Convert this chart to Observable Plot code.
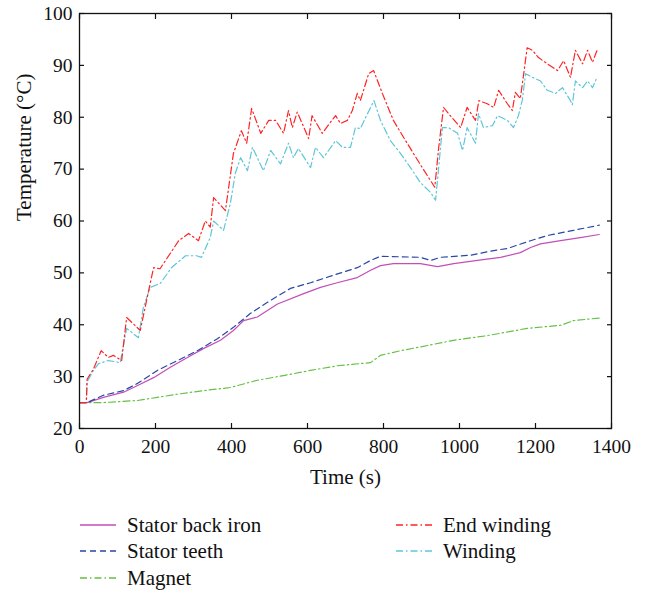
<!DOCTYPE html>
<html><head><meta charset="utf-8">
<script src="https://cdn.jsdelivr.net/npm/d3@7"></script>
<script src="https://cdn.jsdelivr.net/npm/@observablehq/plot@0.6"></script>
<style>
body{margin:0;background:#fff;font-family:"Liberation Serif","Times New Roman",serif;}
#wrap{position:relative;width:647px;height:591px;}
.item{position:absolute;display:flex;align-items:center;font-family:"Liberation Serif","Times New Roman",serif;font-size:21px;color:#111;white-space:nowrap;}
.item svg{margin-right:11px;}
</style></head><body><div id="wrap"></div>
<script>
const xTicks = [0, 200, 400, 600, 800, 1000, 1200, 1400];
const yTicks = [20, 30, 40, 50, 60, 70, 80, 90, 100];
const xLabel = "Time (s)";
const yLabel = "Temperature (°C)";

const backIronT = [0, 20, 63, 116, 153, 195, 239, 284, 326, 371, 405, 432, 468, 521, 590, 634, 678, 731, 766, 792, 826, 897, 942, 985, 1047, 1108, 1160, 1187, 1213, 1266, 1318, 1368];
const backIronV = [25, 25, 26, 27, 28.3, 29.8, 31.8, 33.7, 35.4, 37, 38.9, 40.8, 41.5, 44, 46, 47.2, 48.1, 49.1, 50.5, 51.4, 51.8, 51.8, 51.2, 51.8, 52.4, 53, 53.9, 54.9, 55.6, 56.2, 56.8, 57.4];

const teethT = [0, 20, 63, 116, 153, 205, 258, 310, 363, 405, 450, 503, 555, 608, 679, 731, 766, 792, 897, 924, 950, 1029, 1090, 1126, 1187, 1231, 1300, 1368];
const teethV = [25, 25, 26.4, 27.3, 28.7, 31.2, 33.1, 35, 37.3, 39.5, 42.2, 44.7, 47, 48.1, 49.8, 51, 52.4, 53.2, 53, 52.4, 53, 53.4, 54.3, 54.7, 56.2, 57.2, 58.2, 59.2];

const magnetT = [0, 63, 153, 205, 266, 326, 397, 468, 537, 608, 679, 766, 792, 845, 916, 984, 1073, 1178, 1266, 1300, 1368];
const magnetV = [25, 25, 25.4, 26, 26.7, 27.3, 27.9, 29.3, 30.2, 31.2, 32.1, 32.7, 34.1, 35, 36, 37, 37.9, 39.3, 39.9, 40.8, 41.3];

const endWindingT = [0, 18, 20, 37, 57, 76, 89, 111, 124, 160, 182, 195, 212, 261, 287, 313, 331, 344, 353, 384, 405, 426, 440, 453, 477, 498, 516, 537, 550, 560, 573, 603, 612, 639, 660, 674, 687, 705, 718, 731, 739, 761, 774, 797, 826, 853, 879, 902, 935, 945, 958, 971, 1003, 1020, 1042, 1051, 1073, 1090, 1103, 1126, 1139, 1147, 1160, 1169, 1178, 1192, 1208, 1231, 1258, 1274, 1292, 1305, 1324, 1337, 1350, 1362];
const endWindingV = [25, 25, 29.5, 31.5, 35, 33.7, 34.1, 33.1, 41.4, 38.9, 46.6, 51, 50.8, 56.2, 57.6, 56.2, 60, 58.8, 64.5, 62, 73, 77.4, 75, 81.7, 76.9, 79.4, 79.4, 76.9, 81.3, 78, 81, 75.9, 80.3, 76.9, 79, 80.3, 78.8, 79.4, 81.3, 84.6, 83.2, 88.4, 89, 84.6, 79.4, 76.1, 73, 70.3, 66.5, 74, 81.9, 80.7, 78, 81.9, 79.4, 83.2, 82.6, 81.9, 85.2, 82.6, 81.3, 84.8, 83.6, 88.4, 93.4, 92.9, 91.5, 90.3, 89, 90.9, 87.7, 92.9, 90.3, 92.9, 90.6, 92.9];

const windingT = [0, 18, 20, 35, 50, 76, 107, 124, 155, 168, 186, 213, 242, 279, 308, 321, 344, 353, 379, 397, 410, 424, 442, 455, 484, 503, 529, 550, 563, 576, 608, 621, 642, 674, 692, 713, 726, 739, 758, 775, 792, 818, 845, 871, 897, 924, 937, 942, 955, 971, 995, 1008, 1020, 1042, 1050, 1063, 1087, 1100, 1126, 1142, 1155, 1165, 1174, 1192, 1213, 1231, 1253, 1271, 1292, 1297, 1305, 1324, 1337, 1350, 1362];
const windingV = [25, 25, 29, 31, 32.5, 33.1, 32.7, 39.3, 37.5, 43.3, 47.2, 48, 51, 53.3, 53.3, 53, 56.8, 60, 58.2, 63.4, 69.2, 72.2, 69.7, 74.2, 69.7, 73.6, 71, 75, 72.2, 74, 70.3, 74.2, 72.2, 75.5, 74.2, 74.2, 78, 77.8, 80.7, 83.2, 79.4, 75.5, 73, 70.3, 67.4, 65.5, 64, 67.8, 78, 78, 76.9, 73.6, 78, 75, 80.7, 78, 78.4, 80.3, 79.4, 78, 80.3, 83.2, 88.4, 87.7, 87, 85.2, 84.6, 85.7, 83.2, 82.4, 87, 85.7, 87, 85.7, 87.7];

const seriesNames = ["Stator back iron", "Stator teeth", "Magnet", "End winding", "Winding"];
const seriesT = [backIronT, teethT, magnetT, endWindingT, windingT];
const seriesV = [backIronV, teethV, magnetV, endWindingV, windingV];
const seriesColors = ["#c24fb6", "#2a46a6", "#66c046", "#ff2323", "#5ec6d8"];
const seriesDash = [null, "6,4", "7,3,1.5,3", "7,3,1.5,3", "7,3,1.5,3"];
const drawOrder = [2, 0, 1, 4, 3];

const rowsOf = i => seriesT[i].map((t, j) => ({t, v: seriesV[i][j]}));

const chart = Plot.plot({
  width: 647, height: 500,
  marginLeft: 79, marginRight: 36, marginTop: 13, marginBottom: 72,
  style: {fontFamily: "'Liberation Serif', 'Times New Roman', serif", fontSize: "19.5px", color: "#111", background: "#fff"},
  x: {domain: [0, 1400]},
  y: {domain: [20, 100]},
  marks: [
    ...drawOrder.map(i => Plot.line(rowsOf(i), {x: "t", y: "v", stroke: seriesColors[i], strokeWidth: 1.2, strokeDasharray: seriesDash[i]})),
    Plot.axisX({ticks: xTicks, tickSize: -5, tickPadding: 16, tickFormat: d => String(d), label: null, strokeWidth: 1.2}),
    Plot.axisX({anchor: "top", ticks: xTicks, tickSize: -5, tickFormat: () => "", label: null, strokeWidth: 1.2}),
    Plot.axisY({ticks: yTicks, tickSize: -5, tickPadding: 12, tickFormat: d => String(d), label: null, strokeWidth: 1.2}),
    Plot.axisY({anchor: "right", ticks: yTicks, tickSize: -5, tickFormat: () => "", label: null, strokeWidth: 1.2}),
    Plot.text([xLabel], {frameAnchor: "bottom", dy: 49, fontSize: 21, lineAnchor: "middle", fill: "#111"}),
    Plot.text([yLabel], {frameAnchor: "left", dx: -55, rotate: -90, fontSize: 21, lineAnchor: "middle", fill: "#111"}),
    Plot.frame({stroke: "#111", strokeWidth: 1.3})
  ]
});
const wrap = document.getElementById("wrap");
wrap.appendChild(chart);

const legendPos = [[80, 525], [80, 551], [80, 578], [396, 525], [396, 551]];
seriesNames.forEach((name, i) => {
  const d = document.createElement("div");
  d.className = "item";
  d.style.left = legendPos[i][0] + "px";
  d.style.top = (legendPos[i][1] - 13) + "px";
  d.style.height = "26px";
  const dash = seriesDash[i] ? ` stroke-dasharray="${seriesDash[i]}"` : "";
  d.innerHTML = `<svg width="36" height="10"><line x1="0" y1="5" x2="36" y2="5" stroke="${seriesColors[i]}" stroke-width="1.3"${dash}/></svg><span>${name}</span>`;
  wrap.appendChild(d);
});
</script></body></html>
